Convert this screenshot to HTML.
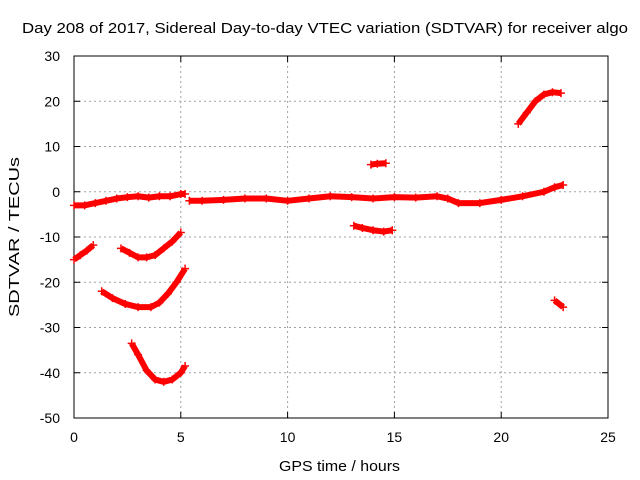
<!DOCTYPE html>
<html><head><meta charset="utf-8"><style>
body{margin:0;background:#fff;}
svg{display:block;font-family:"Liberation Sans",sans-serif;}
</style></head><body>
<svg id="chart" width="640" height="480">
<text x="22" y="33" font-size="15" textLength="606" lengthAdjust="spacingAndGlyphs">Day 208 of 2017, Sidereal Day-to-day VTEC variation (SDTVAR) for receiver algo</text>
<g id="grid"></g>
<g id="axes"></g>
<g id="series"></g>
<text x="279" y="471" font-size="15" textLength="121" lengthAdjust="spacingAndGlyphs">GPS time / hours</text>
<text x="0" y="0" transform="translate(19,237) rotate(-90)" text-anchor="middle" font-size="15" textLength="160" lengthAdjust="spacingAndGlyphs">SDTVAR / TECUs</text>
</svg>
<script>
const xTicks=[0,5,10,15,20,25];
const yTicks=[30,20,10,0,-10,-20,-30,-40,-50];
const segMain1=[[0,-3],[0.5,-3],[1,-2.5],[1.5,-2],[2,-1.5],[2.5,-1.2],[3,-1],[3.5,-1.3],[4,-1],[4.5,-1],[5,-0.5],[5.2,-0.5]];
const segMain2=[[5.4,-2],[6,-2],[7,-1.8],[8,-1.5],[9,-1.5],[10,-2],[11,-1.5],[12,-1],[13,-1.2],[14,-1.5],[15,-1.2],[16,-1.3],[17,-1],[17.5,-1.5],[18,-2.5],[19,-2.5],[20,-1.8],[21,-1],[22,0],[22.5,1],[22.9,1.5]];
const segA=[[0,-15],[0.3,-14],[0.6,-13],[0.9,-11.8]];
const segB=[[2.2,-12.5],[2.6,-13.5],[3,-14.5],[3.4,-14.5],[3.8,-14],[4.2,-12.5],[4.6,-11],[5,-9]];
const segC=[[1.3,-22],[1.8,-23.5],[2.4,-24.8],[3,-25.5],[3.6,-25.5],[4,-24.5],[4.4,-22.5],[4.8,-20],[5.2,-17]];
const segD=[[2.7,-33.5],[3,-36],[3.4,-39.5],[3.8,-41.5],[4.2,-42],[4.6,-41.5],[5,-40],[5.2,-38.5]];
const segE=[[13.1,-7.5],[13.5,-8],[14,-8.5],[14.5,-8.8],[14.9,-8.5]];
const segF=[[13.9,6],[14.2,6.2],[14.6,6.3]];
const segG=[[20.8,15],[21.2,17.5],[21.6,20],[22,21.5],[22.4,22],[22.8,21.8]];
const segH=[[22.5,-24],[22.9,-25.5]];
const segments=[segMain1,segMain2,segA,segB,segC,segD,segE,segF,segG,segH];
const X0=74,X1=608,Y0=418,Y1=56;
const sx=v=>X0+(v-0)/(25-0)*(X1-X0);
const sy=v=>Y0-(v+50)/(80)*(Y0-Y1);
const NS="http://www.w3.org/2000/svg";
function mk(tag,attrs,parent){const e=document.createElementNS(NS,tag);for(const k in attrs)e.setAttribute(k,attrs[k]);parent.appendChild(e);return e;}
const grid=document.getElementById('grid'),axes=document.getElementById('axes'),ser=document.getElementById('series');
xTicks.forEach(t=>{
 if(t>0&&t<25){const l=mk('line',{x1:sx(t),x2:sx(t),y1:Y1,y2:Y0,stroke:'#a0a0a0','stroke-dasharray':'2,3','stroke-width':1},grid);
 
 }
 mk('line',{x1:sx(t),x2:sx(t),y1:Y0,y2:Y0-6,stroke:'#000'},axes);
 mk('line',{x1:sx(t),x2:sx(t),y1:Y1,y2:Y1+6,stroke:'#000'},axes);
 const tx=mk('text',{x:sx(t),y:Y0+24,'text-anchor':'middle','font-size':14},axes);tx.textContent=t;
 
 
});
yTicks.forEach(t=>{
 if(t>-50&&t<30){const l=mk('line',{x1:X0,x2:X1,y1:sy(t),y2:sy(t),stroke:'#a0a0a0','stroke-dasharray':'2,3','stroke-width':1},grid);
 
 }
 mk('line',{x1:X0,x2:X0+6,y1:sy(t),y2:sy(t),stroke:'#000'},axes);
 mk('line',{x1:X1,x2:X1-6,y1:sy(t),y2:sy(t),stroke:'#000'},axes);
 const tx=mk('text',{x:X0-14,y:sy(t)+5,'text-anchor':'end','font-size':14},axes);tx.textContent=t;
 
 
});
mk('rect',{x:X0,y:Y1,width:X1-X0,height:Y0-Y1,fill:'none',stroke:'#000'},axes);
segments.forEach(seg=>{
 const pts=seg.map(p=>sx(p[0])+','+sy(p[1])).join(' ');
 const pl=mk('polyline',{points:pts,fill:'none',stroke:'#ff0000','stroke-width':6,'stroke-linejoin':'round','stroke-linecap':'butt'},ser);
 
 
 seg.forEach(p=>{
  const x=sx(p[0]),y=sy(p[1]);
  mk('path',{d:`M${x-4},${y}H${x+4}M${x},${y-4}V${y+4}`,stroke:'#ff0000','stroke-width':1.5},ser);
 });
});
</script>
</body></html>
